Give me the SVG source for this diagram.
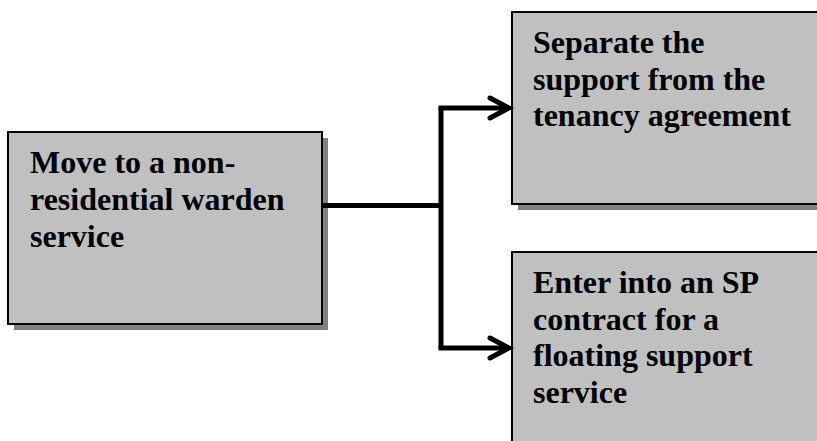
<svg xmlns="http://www.w3.org/2000/svg" width="817" height="441" viewBox="0 0 817 441">
  <defs>
    <style>
      .shadow { fill: #808080; }
      .box { fill: #c0c0c0; stroke: #000; stroke-width: 2; }
      .label { font-family: "Liberation Serif", "Times New Roman", serif; font-weight: bold; font-size: 32px; fill: #000; }
      .conn { fill: none; stroke: #000; stroke-width: 5; stroke-linejoin: miter; }
      .head { fill: none; stroke: #000; stroke-width: 5; stroke-linecap: round; stroke-linejoin: miter; }
    </style>
  </defs>
  <rect width="817" height="441" fill="#fff"/>
  <g id="node-move">
    <rect class="shadow" x="14" y="138" width="314" height="192"/>
    <rect class="box" x="8" y="132" width="314" height="192"/>
    <text class="label" x="30" y="173">Move to a non-</text>
    <text class="label" x="30" y="210">residential warden</text>
    <text class="label" x="30" y="247">service</text>
  </g>
  <g id="node-separate">
    <rect class="shadow" x="518" y="18" width="320" height="192"/>
    <rect class="box" x="512" y="12" width="320" height="192"/>
    <text class="label" x="533" y="53">Separate the</text>
    <text class="label" x="533" y="89.5">support from the</text>
    <text class="label" x="533" y="126">tenancy agreement</text>
  </g>
  <g id="node-enter">
    <rect class="shadow" x="518" y="258" width="320" height="200"/>
    <rect class="box" x="512" y="252" width="320" height="200"/>
    <text class="label" x="533" y="293">Enter into an SP</text>
    <text class="label" x="533" y="329.5">contract for a</text>
    <text class="label" x="533" y="366">floating support</text>
    <text class="label" x="533" y="402.5">service</text>
  </g>
  <g id="connectors">
    <path class="conn" d="M323,205.5 H441"/>
    <path class="conn" d="M441,108 V348"/>
    <path class="conn" d="M438.5,108 H509"/>
    <path class="conn" d="M438.5,348 H509"/>
    <path class="head" d="M490,98 L509,108 L490,118"/>
    <path class="head" d="M490,338 L509,348 L490,358"/>
  </g>
</svg>
